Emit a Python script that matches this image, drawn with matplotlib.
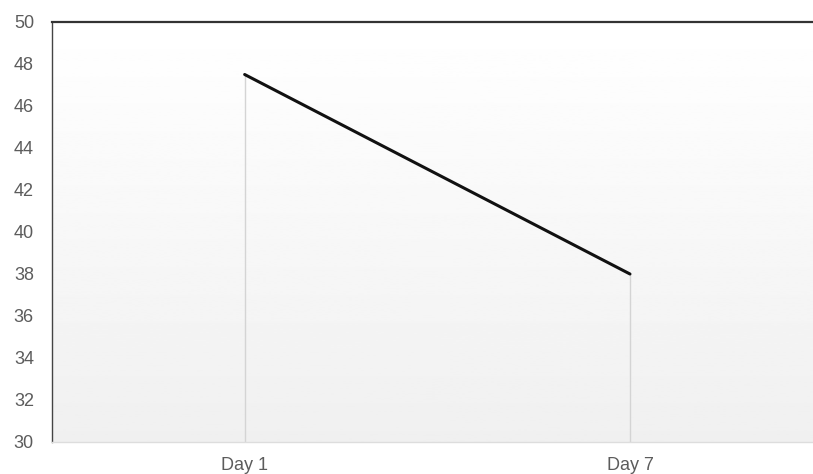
import numpy as np
import matplotlib.pyplot as plt

# Chart data
days = ['Day 1', 'Day 7']
values = [47.5, 38.0]
y_ticks = [30, 32, 34, 36, 38, 40, 42, 44, 46, 48, 50]

plt.rcParams['font.family'] = ['Liberation Sans', 'DejaVu Sans']

fig = plt.figure(figsize=(8.13, 4.74), dpi=100)
ax = fig.add_axes([52 / 813, 32 / 474, 761 / 813, 420 / 474])

x = np.arange(len(days))
x_min, x_max = -0.5, 1.475
y_min, y_max = 30, 50

# vertical gradient background (white at top, light gray at bottom)
grad = np.linspace(0.94, 1.0, 256).reshape(-1, 1)
ax.imshow(grad, cmap='gray', vmin=0, vmax=1, aspect='auto',
          extent=[x_min, x_max, y_max, y_min], zorder=0)

# drop lines from each point to the axis
ax.vlines(x, y_min, values, color='#d4d4d4', linewidth=1, zorder=1)

# the series line
ax.plot(x, values, color='#111111', linewidth=2.2, zorder=3,
        solid_capstyle='round')

ax.set_xlim(x_min, x_max)
ax.set_ylim(y_min, y_max)
ax.set_xticks(x)
ax.set_xticklabels(days)
ax.set_yticks(y_ticks)
ax.tick_params(length=0, labelsize=13, colors='#5c5c5c', pad=13)
ax.tick_params(axis='x', pad=11)

ax.spines['top'].set_color('#333333')
ax.spines['top'].set_linewidth(1.6)
ax.spines['left'].set_color('#444444')
ax.spines['left'].set_linewidth(1.0)
ax.spines['bottom'].set_color('#dddddd')
ax.spines['bottom'].set_linewidth(1.0)
ax.spines['right'].set_visible(False)

fig.savefig('out.png', dpi=100)
